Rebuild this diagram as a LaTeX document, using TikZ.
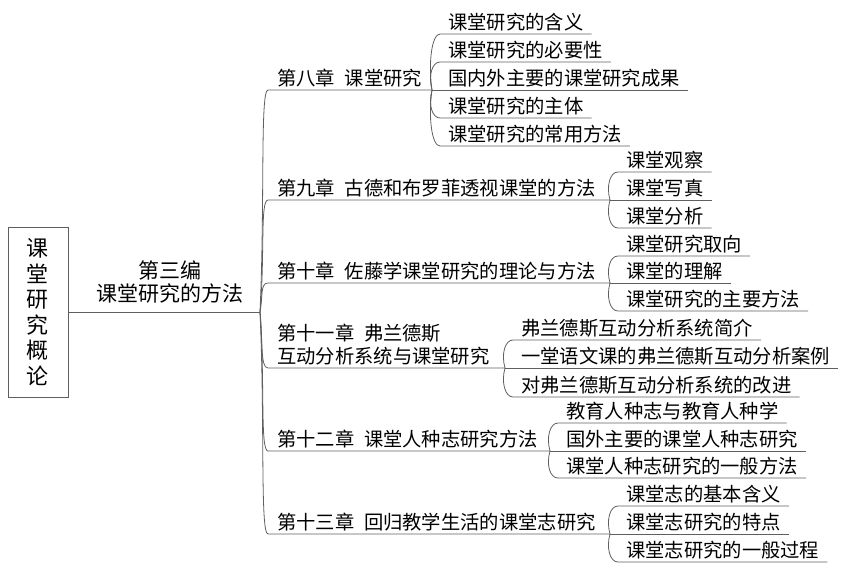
\documentclass[tikz,border=0pt]{standalone}
\usepackage{fontspec}
\setmainfont{Noto Sans CJK SC}
\usetikzlibrary{positioning}
\definecolor{linegray}{RGB}{95,95,95}

\begin{document}
\begin{tikzpicture}[x=1pt,y=-1pt,
    line/.style={draw=linegray,line width=.8pt},
    rootbox/.style={draw=linegray,line width=.8pt,minimum width=60pt,minimum height=170pt,
      align=center,font=\fontsize{22}{25.5}\selectfont},
    chap/.style={anchor=south west,inner xsep=9pt,inner ysep=4pt,text depth=0pt,
      align=left,font=\fontsize{19.3}{23}\selectfont},
    leaf/.style={chap,inner xsep=8pt}]
  \useasboundingbox (0,0) rectangle (851,571);

  % root and part
  \node[rootbox] (root) at (38,312) {课\\堂\\研\\究\\概\\论};
  \coordinate (hub) at (260,312);
  \draw[line] (root.east) -- (hub);
  \node[anchor=south,inner ysep=10pt,text depth=0pt,align=center,
    font=\fontsize{21}{23}\selectfont] (part) at (170,312) {第三编\\课堂研究的方法};

  % chapters
  \node[chap] (ch8)  at (268,90)  {第八章\enspace 课堂研究};
  \node[chap] (ch9)  at (268,200) {第九章\enspace 古德和布罗菲透视课堂的方法};
  \node[chap] (ch10) at (268,283) {第十章\enspace 佐藤学课堂研究的理论与方法};
  \node[chap] (ch11) at (268,368) {第十一章\enspace 弗兰德斯\\互动分析系统与课堂研究};
  \node[chap] (ch12) at (268,451) {第十二章\enspace 课堂人种志研究方法};
  \node[chap] (ch13) at (268,534) {第十三章\enspace 回归教学生活的课堂志研究};
  \coordinate (b8)  at (432,90);
  \coordinate (b9)  at (610,200);
  \coordinate (b10) at (610,283);
  \coordinate (b11) at (505,368);
  \coordinate (b12) at (550,451);
  \coordinate (b13) at (610,534);
  \draw[line] (hub) .. controls +(5,-111) and +(-8,0) .. (ch8.south west) -- (b8);
  \draw[line] (hub) .. controls +(5,-56) and +(-8,0) .. (ch9.south west) -- (b9);
  \draw[line] (hub) .. controls +(3,-15) and +(-8,0) .. (ch10.south west) -- (b10);
  \draw[line] (hub) .. controls +(3,28) and +(-8,0) .. (ch11.south west) -- (b11);
  \draw[line] (hub) .. controls +(5,70) and +(-8,0) .. (ch12.south west) -- (b12);
  \draw[line] (hub) .. controls +(5,111) and +(-8,0) .. (ch13.south west) -- (b13);

  % chapter 8
  \node[leaf] (c8a) at (440,34)  {课堂研究的含义};
  \node[leaf] (c8b) at (440,62)  {课堂研究的必要性};
  \node[leaf] (c8c) at (440,90)  {国内外主要的课堂研究成果};
  \node[leaf] (c8d) at (440,118) {课堂研究的主体};
  \node[leaf] (c8e) at (440,146) {课堂研究的常用方法};
  \draw[line] (b8) .. controls +(-4,-28) and +(-8,0) .. (c8a.south west) -- (c8a.south east);
  \draw[line] (b8) .. controls +(-4,-14) and +(-8,0) .. (c8b.south west) -- (c8b.south east);
  \draw[line] (b8) -- (c8c.south east);
  \draw[line] (b8) .. controls +(-4,14) and +(-8,0) .. (c8d.south west) -- (c8d.south east);
  \draw[line] (b8) .. controls +(-4,28) and +(-8,0) .. (c8e.south west) -- (c8e.south east);

  % chapter 9
  \node[leaf] (c9a) at (618,172) {课堂观察};
  \node[leaf] (c9b) at (618,200) {课堂写真};
  \node[leaf] (c9c) at (618,228) {课堂分析};
  \draw[line] (b9) .. controls +(-4,-14) and +(-8,0) .. (c9a.south west) -- (c9a.south east);
  \draw[line] (b9) -- (c9b.south east);
  \draw[line] (b9) .. controls +(-4,14) and +(-8,0) .. (c9c.south west) -- (c9c.south east);

  % chapter 10
  \node[leaf] (c10a) at (618,256) {课堂研究取向};
  \node[leaf] (c10b) at (618,283) {课堂的理解};
  \node[leaf] (c10c) at (618,311) {课堂研究的主要方法};
  \draw[line] (b10) .. controls +(-4,-14) and +(-8,0) .. (c10a.south west) -- (c10a.south east);
  \draw[line] (b10) -- (c10b.south east);
  \draw[line] (b10) .. controls +(-4,14) and +(-8,0) .. (c10c.south west) -- (c10c.south east);

  % chapter 11
  \node[leaf] (c11a) at (513,340) {弗兰德斯互动分析系统简介};
  \node[leaf] (c11b) at (513,368) {一堂语文课的弗兰德斯互动分析案例};
  \node[leaf] (c11c) at (513,397) {对弗兰德斯互动分析系统的改进};
  \draw[line] (b11) .. controls +(-4,-14) and +(-8,0) .. (c11a.south west) -- (c11a.south east);
  \draw[line] (b11) -- (c11b.south east);
  \draw[line] (b11) .. controls +(-4,14) and +(-8,0) .. (c11c.south west) -- (c11c.south east);

  % chapter 12
  \node[leaf] (c12a) at (558,423) {教育人种志与教育人种学};
  \node[leaf] (c12b) at (558,451) {国外主要的课堂人种志研究};
  \node[leaf] (c12c) at (558,478) {课堂人种志研究的一般方法};
  \draw[line] (b12) .. controls +(-4,-14) and +(-8,0) .. (c12a.south west) -- (c12a.south east);
  \draw[line] (b12) -- (c12b.south east);
  \draw[line] (b12) .. controls +(-4,14) and +(-8,0) .. (c12c.south west) -- (c12c.south east);

  % chapter 13
  \node[leaf] (c13a) at (618,506) {课堂志的基本含义};
  \node[leaf] (c13b) at (618,534) {课堂志研究的特点};
  \node[leaf] (c13c) at (618,562) {课堂志研究的一般过程};
  \draw[line] (b13) .. controls +(-4,-14) and +(-8,0) .. (c13a.south west) -- (c13a.south east);
  \draw[line] (b13) -- (c13b.south east);
  \draw[line] (b13) .. controls +(-4,14) and +(-8,0) .. (c13c.south west) -- (c13c.south east);
\end{tikzpicture}
\end{document}
